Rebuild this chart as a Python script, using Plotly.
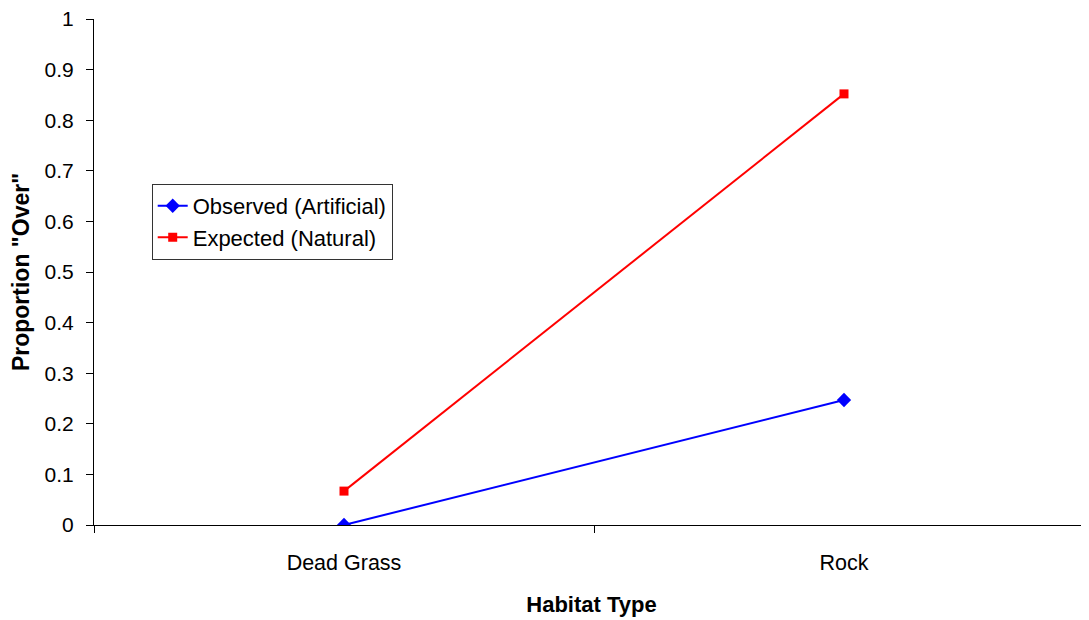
import plotly.graph_objects as go

categories = ["Dead Grass", "Rock"]
observed = [0.0, 0.247]
expected = [0.067, 0.852]
y_ticks = [0, 0.1, 0.2, 0.3, 0.4, 0.5, 0.6, 0.7, 0.8, 0.9, 1]
y_ticktext = ["0", "0.1", "0.2", "0.3", "0.4", "0.5", "0.6", "0.7", "0.8", "0.9", "1"]

FONT = "Liberation Sans, Arial, sans-serif"

fig = go.Figure()
fig.add_trace(go.Scatter(
    x=categories, y=observed, name="Observed (Artificial)",
    mode="lines+markers",
    line=dict(color="#0000FF", width=2),
    marker=dict(symbol="diamond", size=11, color="#0000FF"),
))
fig.add_trace(go.Scatter(
    x=categories, y=expected, name="Expected (Natural)",
    mode="lines+markers",
    line=dict(color="#FF0000", width=2),
    marker=dict(symbol="square", size=9, color="#FF0000"),
))

fig.update_layout(
    width=1081, height=612,
    margin=dict(l=86, r=0, t=11, b=95),
    paper_bgcolor="white", plot_bgcolor="white",
    font=dict(family=FONT, size=21, color="black"),
    showlegend=True,
    legend=dict(
        x=0.058, y=0.674, xanchor="left", yanchor="top",
        bordercolor="#333333", borderwidth=1, bgcolor="white",
        font=dict(family=FONT, size=22, color="black"),
        tracegroupgap=0, itemwidth=30,
    ),
    xaxis=dict(
        type="category", range=[-0.5, 1.49],
        showline=True, linecolor="black", linewidth=1,
        showgrid=False, zeroline=False,
        ticks="outside", tickson="boundaries", ticklen=7, tickcolor="black",
        ticklabelstandoff=18,
        tickfont=dict(family=FONT, size=21.5),
        title=dict(text="<b>Habitat Type</b>", font=dict(family=FONT, size=22), standoff=22),
        automargin=False,
    ),
    yaxis=dict(
        range=[0, 1],
        tickmode="array", tickvals=y_ticks, ticktext=y_ticktext,
        showline=True, linecolor="black", linewidth=1,
        showgrid=False, zeroline=False,
        ticks="outside", ticklen=7, tickcolor="black",
        ticklabelstandoff=8, ticklabeloverflow="allow",
        tickfont=dict(family=FONT, size=21),
        title=dict(text="<b>Proportion \"Over\"</b>", font=dict(family=FONT, size=23), standoff=12),
        automargin=False,
    ),
)

fig.write_html("out.html")
